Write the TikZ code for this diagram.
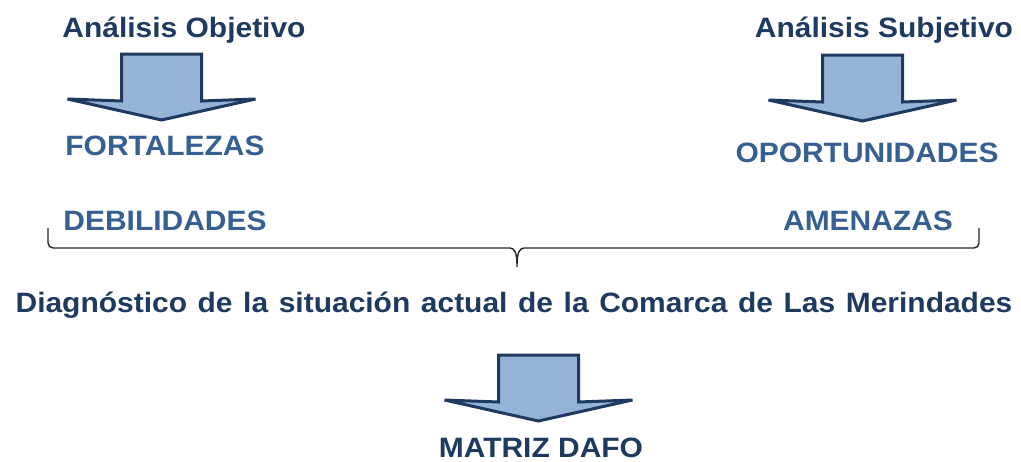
\documentclass[tikz,border=0pt]{standalone}
\usepackage{fontspec}
\setmainfont{Liberation Sans}[FakeStretch=1.07]
\definecolor{azuloscuro}{HTML}{1F3A60}
\definecolor{azulmedio}{HTML}{376092}
\definecolor{azulclaro}{HTML}{95B3D7}
\newcommand\espacioancho{\spaceskip=10.6pt\relax}
\tikzset{
  titulo/.style={anchor=base, inner sep=0pt, text=azuloscuro, font=\fontsize{28}{32}\selectfont\bfseries},
  factor/.style={anchor=base, inner sep=0pt, text=azulmedio, font=\fontsize{28}{32}\selectfont\bfseries},
  flecha/.style={draw=azuloscuro, fill=azulclaro, line width=3, line join=miter},
  llave/.style={draw=black!85, line width=1.4}
}
\begin{document}
\begin{tikzpicture}[x=1pt,y=-1pt]
\useasboundingbox (0,0) rectangle (1021,461);

% draw block arrows
\foreach \cx/\cy in {161.5/54, 862.5/55, 538.5/355}
\draw[flecha] (\cx-40,\cy) -- (\cx+40,\cy) -- (\cx+40,\cy+47) -- (\cx+94,\cy+45)
  -- (\cx,\cy+66) -- (\cx-94,\cy+45) -- (\cx-40,\cy+47) -- cycle;

% draw nodes
\node[titulo] (objetivo) at (184,37) {Análisis Objetivo};
\node[titulo] (subjetivo) at (884,37) {Análisis Subjetivo};

\node[factor] (fortalezas) at (165,155) {FORTALEZAS};
\node[factor] (oportunidades) at (867,162) {OPORTUNIDADES};
\node[factor] (debilidades) at (165,230) {DEBILIDADES};
\node[factor] (amenazas) at (868,230) {AMENAZAS};

% brace under the four factors
\draw[llave, rounded corners=5] (48,228) -- (48,248) -- (505,248)
  .. controls (514,248) and (517,252) .. (517,270)
  .. controls (517,252) and (520,248) .. (529,248) -- (979,248) -- (979,228);

\node[titulo] (diagnostico) at (514,312) {\espacioancho Diagnóstico de la situación actual de la Comarca de Las Merindades};

\node[titulo] (matriz) at (541,457) {MATRIZ DAFO};

\end{tikzpicture}
\end{document}
